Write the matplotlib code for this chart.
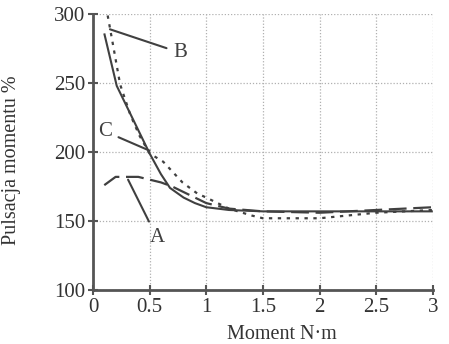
import matplotlib
matplotlib.use("Agg")
import matplotlib.pyplot as plt

# curve A (dashed)
a_x = [0.1, 0.2, 0.3, 0.4, 0.5, 0.6, 0.7, 0.8, 0.9, 1.0, 1.2, 1.5, 2.0, 2.5, 3.0]
a_y = [176, 182, 182, 182, 180, 178, 175, 171, 167, 163, 159, 157, 156, 158, 160]
# curve B (dotted)
b_x = [0.13, 0.17, 0.24, 0.33, 0.41, 0.5, 0.62, 0.79, 0.92, 1.0, 1.2, 1.4, 1.5, 2.0, 2.5, 3.0]
b_y = [299, 281, 249, 227, 212, 199, 193, 178, 170, 167, 159, 154, 152, 152, 156, 158]
# curve C (solid)
c_x = [0.1, 0.21, 0.5, 0.6, 0.68, 0.8, 0.9, 1.0, 1.2, 1.5, 2.0, 2.5, 3.0]
c_y = [286, 248, 199, 184, 174, 167, 163, 160, 158, 157, 157, 157, 157]

x_ticks = [0, 0.5, 1, 1.5, 2, 2.5, 3]
x_labels = ["0", "0.5", "1", "1.5", "2", "2.5", "3"]
y_ticks = [100, 150, 200, 250, 300]

plt.rcParams["font.family"] = ["Liberation Serif", "DejaVu Serif"]
ink = "#404040"

fig = plt.figure(figsize=(4.49, 3.44), dpi=100)
ax = fig.add_axes([0.207, 0.157, 0.757, 0.802])

ax.plot(c_x, c_y, color=ink, lw=1.5, solid_capstyle="butt")
ax.plot(a_x, a_y, color=ink, lw=1.6, linestyle=(0, (8, 3)))
ax.plot(b_x, b_y, color=ink, lw=1.6, linestyle=(0, (1.5, 2.5)))

arrow = dict(arrowstyle="-", color=ink, lw=1.5, shrinkA=3, shrinkB=0)
ax.annotate("B", xy=(0.15, 289), xytext=(0.77, 272), fontsize=15, color=ink,
            ha="center", va="center", arrowprops=arrow)
ax.annotate("C", xy=(0.5, 201), xytext=(0.106, 215), fontsize=15, color=ink,
            ha="center", va="center", arrowprops=arrow)
ax.annotate("A", xy=(0.31, 180), xytext=(0.565, 138), fontsize=15, color=ink,
            ha="center", va="center", arrowprops=arrow)

ax.set_xlim(0, 3)
ax.set_ylim(100, 300)
ax.set_xticks(x_ticks)
ax.set_xticklabels(x_labels)
ax.set_yticks(y_ticks)
ax.grid(True, color="#b0b0b0", linestyle=(0, (1, 1.5)), lw=0.9)
ax.set_axisbelow(True)

for side in ("top", "right"):
    ax.spines[side].set_visible(False)
for side in ("left", "bottom"):
    ax.spines[side].set_color("#555555")
    ax.spines[side].set_linewidth(2)
ax.tick_params(direction="inout", length=7, width=1.5, color="#555555",
               labelsize=15, labelcolor="#333333", pad=2)

ax.text(0.556, -0.16, "Moment N·m", transform=ax.transAxes, fontsize=14.5,
        color="#333333", ha="center", va="center")
ax.text(-0.24, 0.47, "Pulsacja momentu %", transform=ax.transAxes, fontsize=14.5,
        color="#333333", ha="center", va="center", rotation=90)

fig.savefig("out.png", dpi=100)
